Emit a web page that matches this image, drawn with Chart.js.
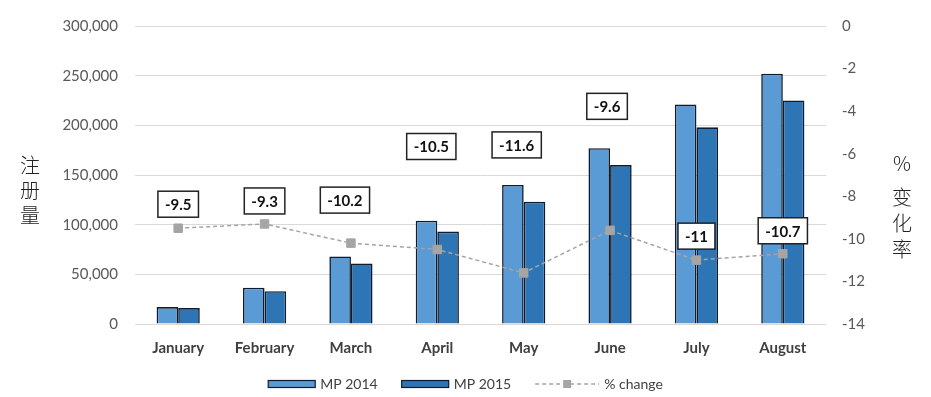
<!DOCTYPE html>
<html>
<head>
<meta charset="utf-8">
<script src="https://cdn.jsdelivr.net/npm/chart.js@4.4.0/dist/chart.umd.min.js"></script>
<style>
html,body{margin:0;padding:0;background:#fff}
</style>
</head>
<body>
<canvas id="regChart" width="931" height="397"></canvas>
<script>
var months=['January','February','March','April','May','June','July','August']
var mp2014=[17000,36500,68000,104000,140000,177000,221000,252000]
var mp2015=[16000,33000,61000,93000,123000,160000,198000,225000]
var pctChange=[-9.5,-9.3,-10.2,-10.5,-11.6,-9.6,-11,-10.7]

var FONT='Lato'
var BAR1='#5B9BD5', BAR2='#2E75B6', EDGE='#0f1c2e', LINE='#A5A5A5'

// where the boxed % labels sit relative to their point (moved by hand in the original)
var labelShift=[[0,-24],[0,-23],[-6,-43],[-6,-103],[-7,-128],[-3,-124],[0,-24],[0,-23]]

const pctLabels={
	id:'pctLabels',
	afterDatasetsDraw(chart){
		var ctx=chart.ctx
		var meta=chart.getDatasetMeta(2)
		ctx.save()
		ctx.font='bold 15px '+FONT
		ctx.textAlign='center'
		ctx.textBaseline='middle'
		meta.data.forEach((pt,i)=>{
			var txt=String(pctChange[i])
			var x=pt.x+labelShift[i][0], y=pt.y+labelShift[i][1]
			var w=ctx.measureText(txt).width+14, h=26
			ctx.fillStyle='#fff'
			ctx.fillRect(x-w/2,y-h/2,w,h)
			ctx.lineWidth=1.5
			ctx.strokeStyle='#222'
			ctx.strokeRect(x-w/2,y-h/2,w,h)
			ctx.fillStyle='#111'
			ctx.fillText(txt,x,y+1)
		})
		ctx.restore()
	}
}

const sideTitles={
	id:'sideTitles',
	afterDraw(chart){
		var ctx=chart.ctx
		ctx.save()
		ctx.font='300 20px "Noto Sans CJK SC"'
		ctx.fillStyle='#222'
		ctx.textAlign='center'
		ctx.textBaseline='middle'
		;['注','册','量'].forEach((c,i)=>ctx.fillText(c,30,165+i*25))
		;['%','变','化','率'].forEach((c,i)=>ctx.fillText(c,902,163+i*26+(i>0?8:0)))
		ctx.restore()
	}
}

const bottomLegend={
	id:'bottomLegend',
	afterDraw(chart){
		var ctx=chart.ctx
		var items=[
			{kind:'bar',color:BAR1,text:'MP 2014'},
			{kind:'bar',color:BAR2,text:'MP 2015'},
			{kind:'line',color:LINE,text:'% change'}
		]
		ctx.save()
		ctx.font='14px '+FONT
		ctx.textBaseline='middle'
		var y=384, gap=24
		var widths=items.map(it=>(it.kind=='bar'?47:64)+5+ctx.measureText(it.text).width)
		var total=widths.reduce((a,b)=>a+b,0)+gap*(items.length-1)
		var x=(chart.width-total)/2
		items.forEach((it,i)=>{
			if(it.kind=='bar'){
				ctx.fillStyle=it.color
				ctx.fillRect(x,y-3.5,47,7)
				ctx.lineWidth=1.2
				ctx.strokeStyle=EDGE
				ctx.strokeRect(x,y-3.5,47,7)
				x+=52
			}else{
				ctx.strokeStyle=it.color
				ctx.lineWidth=1.5
				ctx.setLineDash([4,3])
				ctx.beginPath(); ctx.moveTo(x,y); ctx.lineTo(x+64,y); ctx.stroke()
				ctx.setLineDash([])
				ctx.fillStyle=it.color
				ctx.fillRect(x+28,y-4,8,8)
				x+=69
			}
			ctx.fillStyle='#404040'
			ctx.fillText(it.text,x,y)
			x+=ctx.measureText(it.text).width+gap
		})
		ctx.restore()
	}
}

new Chart(document.getElementById('regChart'),{
	type:'bar',
	data:{
		labels:months,
		datasets:[{
			label:'MP 2014',
			data:mp2014,
			backgroundColor:BAR1,
			borderColor:EDGE,
			borderWidth:1.6,
			categoryPercentage:0.5,
			barPercentage:1,
			yAxisID:'y',
			order:1
		},{
			label:'MP 2015',
			data:mp2015,
			backgroundColor:BAR2,
			borderColor:EDGE,
			borderWidth:1.6,
			categoryPercentage:0.5,
			barPercentage:1,
			yAxisID:'y',
			order:2
		},{
			type:'line',
			label:'% change',
			data:pctChange,
			yAxisID:'y1',
			borderColor:LINE,
			borderWidth:1.5,
			borderDash:[4,3],
			tension:0,
			fill:false,
			pointStyle:'rect',
			pointRadius:6,
			pointBackgroundColor:LINE,
			pointBorderColor:LINE,
			pointBorderWidth:1,
			order:0
		}]
	},
	options:{
		responsive:false,
		devicePixelRatio:1,
		animation:false,
		layout:{padding:{top:22,left:0,right:0,bottom:0}},
		plugins:{legend:{display:false},tooltip:{enabled:false}},
		scales:{
			x:{
				grid:{display:false},
				border:{display:false},
				ticks:{color:'#404040',font:{family:FONT,size:15,weight:'bold'},padding:7},
				afterFit:function(s){s.height=73}
			},
			y:{
				position:'left',
				min:0,max:300000,
				grid:{color:'#d9d9d9',drawTicks:false,lineWidth:1},
				border:{display:false},
				ticks:{stepSize:50000,color:'#595959',font:{family:FONT,size:15},padding:17,
					callback:v=>v.toLocaleString('en-US')},
				afterFit:function(s){s.width=135}
			},
			y1:{
				position:'right',
				min:-14,max:0,
				grid:{display:false,drawTicks:false},
				border:{display:false},
				ticks:{stepSize:2,color:'#595959',font:{family:FONT,size:15},padding:16},
				afterFit:function(s){s.width=105}
			}
		}
	},
	plugins:[pctLabels,sideTitles,bottomLegend]
})
</script>
</body>
</html>
